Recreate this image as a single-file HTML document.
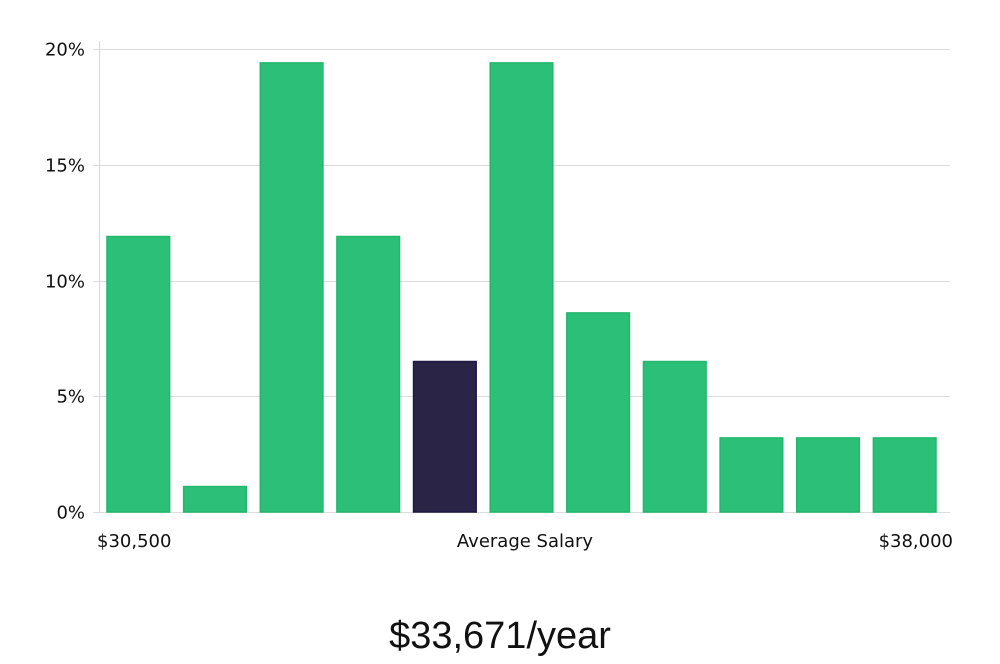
<!DOCTYPE html>
<html><head><meta charset="utf-8">
<style>
html,body{margin:0;padding:0;background:#fff;}
body{width:1000px;height:660px;overflow:hidden;font-family:"DejaVu Sans","Liberation Sans",sans-serif;}
svg text{font-family:"DejaVu Sans","Liberation Sans",sans-serif;}
</style></head>
<body>
<svg id="chart" width="1000" height="660" xmlns="http://www.w3.org/2000/svg">
<g id="grid"></g>
<g id="bars"></g>
<line x1="99.5" y1="41" x2="99.5" y2="512" stroke="#d8d8d8" stroke-width="1"/>
<g id="yticks"></g>
<text x="97" y="547" font-size="18" fill="#111">$30,500</text>
<text x="525" y="547" font-size="18" fill="#111" text-anchor="middle">Average Salary</text>
<text x="953" y="547" font-size="18" fill="#111" text-anchor="end">$38,000</text>
<text x="500" y="648" font-size="38" fill="#111" text-anchor="middle" style="font-family:'Liberation Sans',sans-serif;font-weight:300">$33,671/year</text>
</svg>
<script>
const values = [11.9, 1.1, 19.4, 11.9, 6.5, 19.4, 8.6, 6.5, 3.2, 3.2, 3.2];
const tickValues = [0, 5, 10, 15, 20];
const tickLabels = ["0%", "5%", "10%", "15%", "20%"];
const highlightIndex = [4];

const NS = "http://www.w3.org/2000/svg";
const plotLeft = 99, plotRight = 950, y0 = 512, y20 = 49;
function yScale(v){ return y0 - (v/20)*(y0-y20); }
const step = (plotRight - plotLeft - 8) / values.length;
function xScale(i){ return plotLeft + 8 + i*step; }
const barW = step - 14;

const grid = document.getElementById('grid');
const yt = document.getElementById('yticks');
tickValues.forEach((t,i)=>{
  const y = Math.round(yScale(t))+0.5;
  const l = document.createElementNS(NS,'line');
  
  
  l.setAttribute('x1',plotLeft-6); l.setAttribute('x2',plotRight);
  l.setAttribute('y1',y); l.setAttribute('y2',y);
  l.setAttribute('stroke','#dcdcdc'); l.setAttribute('stroke-width','1');
  grid.appendChild(l);
  const tx = document.createElementNS(NS,'text');
  
  
  tx.setAttribute('x',85); tx.setAttribute('y',y+6);
  tx.setAttribute('text-anchor','end'); tx.setAttribute('font-size','18'); tx.setAttribute('fill','#111');
  tx.textContent = tickLabels[i];
  yt.appendChild(tx);
});

const bars = document.getElementById('bars');
values.forEach((v,i)=>{
  const r = document.createElementNS(NS,'rect');
  
  
  const hi = highlightIndex.includes(i);
  const top = yScale(v);
  r.setAttribute('x',xScale(i)); r.setAttribute('y',top);
  r.setAttribute('width',barW); r.setAttribute('height',y0-top);
  r.setAttribute('fill', hi ? '#2a2547' : '#2cbf78');
  r.setAttribute('stroke', hi ? '#1d1840' : '#22b76c');
  r.setAttribute('stroke-width','1.5');
  bars.appendChild(r);
});
</script>
</body></html>
